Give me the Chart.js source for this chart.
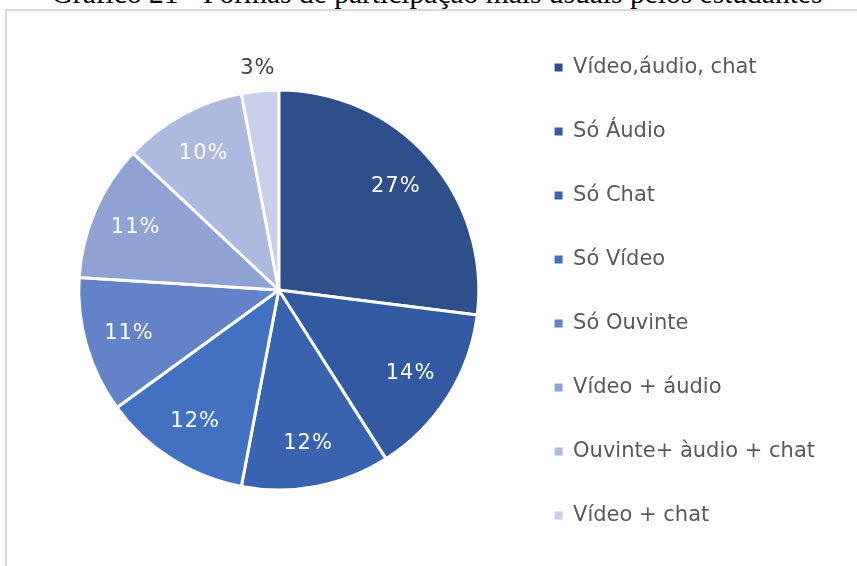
<!DOCTYPE html>
<html>
<head>
<meta charset="utf-8">
<script src="https://cdn.jsdelivr.net/npm/chart.js@4"></script>
<style>
  html, body { margin: 0; padding: 0; background: #fff; }
  #wrap { position: relative; width: 857px; height: 566px; overflow: hidden; }
  #titulo {
    position: absolute; left: 0; width: 874px; top: -23px;
    text-align: center; font-family: "Liberation Serif", serif; font-size: 29.5px;
    color: #000; white-space: nowrap;
  }
  #moldura {
    position: absolute; left: 5px; top: 9px; width: 870px; height: 600px;
    border-left: 2px solid #d9d9d9; border-top: 2px solid #d9d9d9;
  }
  canvas { position: absolute; left: 0; top: 0; }
</style>
</head>
<body>
<div id="wrap">
  <div id="titulo">Gráfico 21 - Formas de participação mais usuais pelos estudantes</div>
  <div id="moldura"></div>
  <canvas id="grafico" width="857" height="566"></canvas>
</div>
<script>
let categorias = ['Vídeo,áudio, chat', 'Só Áudio', 'Só Chat', 'Só Vídeo', 'Só Ouvinte', 'Vídeo + áudio', 'Ouvinte+ àudio + chat', 'Vídeo + chat'];
let percentuais = [27, 14, 12, 12, 11, 11, 10, 3];
let cores = ['#2f4f8b', '#3359a3', '#3a63af', '#4371c2', '#6482c8', '#8ea2d4', '#adbae0', '#c8d0ea'];

// rótulos de porcentagem: dentro da fatia em branco, fatias pequenas fora
const rotulos = {
    id: 'rotulos',
    afterDatasetsDraw(chart) {
        const ctx = chart.ctx;
        const arcs = chart.getDatasetMeta(0).data;
        ctx.save();
        ctx.font = '21px "DejaVu Sans"';
        ctx.letterSpacing = '1px';
        ctx.textAlign = 'center';
        ctx.textBaseline = 'middle';
        arcs.forEach((arc, i) => {
            const meio = (arc.startAngle + arc.endAngle) / 2;
            let dist = arc.outerRadius * 0.78;
            ctx.fillStyle = '#ffffff';
            if (percentuais[i] < 5) {
                dist = arc.outerRadius + 22;
                ctx.fillStyle = '#404040';
            }
            ctx.fillText(percentuais[i] + '%', arc.x + Math.cos(meio) * dist, arc.y + Math.sin(meio) * dist);
        });
        ctx.restore();
    }
};

const ctx = document.getElementById('grafico');

var chart = new Chart(ctx, {
    type: 'pie',
    data: {
        labels: categorias,
        datasets: [{
            data: percentuais,
            backgroundColor: cores,
            borderColor: '#ffffff',
            borderWidth: 3,
            radius: 200
        }]
    },
    options: {
        responsive: false,
        animation: false,
        layout: { padding: { left: 46, top: 14, right: 32, bottom: -3 } },
        plugins: {
            tooltip: { enabled: false },
            legend: {
                position: 'right',
                labels: {
                    boxWidth: 8,
                    boxHeight: 8,
                    padding: 43,
                    color: '#595959',
                    font: { family: 'DejaVu Sans', size: 21 },
                    // quadradinhos sem a borda branca das fatias
                    generateLabels(c) {
                        const base = Chart.overrides.doughnut.plugins.legend.labels.generateLabels(c);
                        return base.map(l => Object.assign(l, { lineWidth: 0, strokeStyle: l.fillStyle }));
                    }
                }
            }
        }
    },
    plugins: [rotulos]
});
</script>
</body>
</html>
